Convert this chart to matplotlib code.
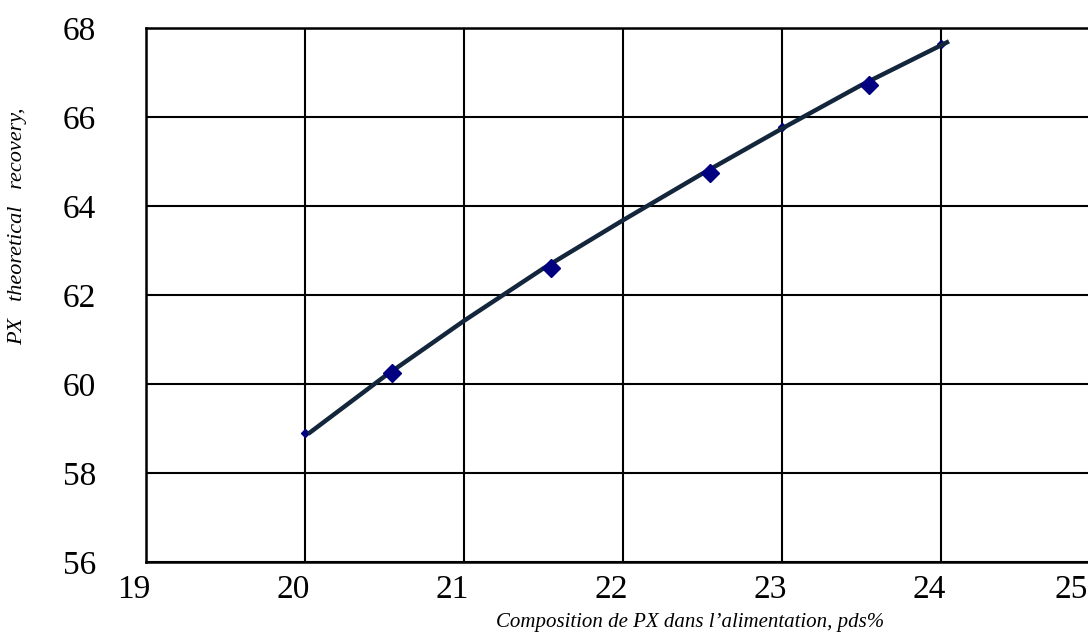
import matplotlib
matplotlib.use("Agg")
import matplotlib.pyplot as plt
from matplotlib.transforms import ScaledTranslation

# measured points (diamonds)
x_mes = [20.55, 21.55, 22.55, 23.55]
y_mes = [60.25, 62.6, 64.75, 66.72]

# smoothed recovery curve
x_curve = [20.02, 20.5, 21.0, 21.5, 22.0, 22.5, 23.0, 23.5, 24.05]
y_curve = [58.88, 60.17, 61.42, 62.6, 63.68, 64.73, 65.74, 66.72, 67.7]

# curve nodes at integer compositions
x_nodes = [20.0, 23.0, 24.0]
y_nodes = [58.9, 65.78, 67.64]

x_ticks = [19, 20, 21, 22, 23, 24, 25]
y_ticks = [56, 58, 60, 62, 64, 66, 68]

plt.rcParams['font.family'] = ['Liberation Serif', 'DejaVu Serif']

fig = plt.figure(figsize=(10.88, 6.44), dpi=100)
ax = fig.add_axes([146 / 1088, 82 / 644, 954 / 1088, 534 / 644])

ax.plot(x_nodes, y_nodes, linestyle='none', marker='D', markersize=4,
        color='#000080', zorder=2)
ax.plot(x_curve, y_curve, color='#13263c', linewidth=3.2,
        solid_capstyle='butt', zorder=3)
ax.plot(x_mes, y_mes, linestyle='none', marker='D', markersize=9,
        color='#000080', zorder=4)

ax.set_xlim(19, 25)
ax.set_ylim(56, 68)
ax.set_xticks(x_ticks)
ax.set_yticks(y_ticks)
ax.set_xticklabels([str(t) for t in x_ticks])
ax.set_yticklabels([str(t) for t in y_ticks])
ax.tick_params(length=0, labelsize=24, colors='black')
ax.tick_params(axis='x', pad=9)
ax.tick_params(axis='y', pad=36)

ax.grid(True, color='black', linewidth=1.5)
ax.set_axisbelow(True)
for side in ['left', 'top', 'bottom']:
    ax.spines[side].set_linewidth(1.8)
ax.spines['right'].set_visible(False)

# nudge x labels left, keep the last one inside the figure
shift = ScaledTranslation(-12 / 100, 0, fig.dpi_scale_trans)
labels = ax.get_xticklabels()
for lab in labels:
    lab.set_transform(lab.get_transform() + shift)
labels[-1].set_horizontalalignment('right')

fig.text(18 / 1088, 1 - 226 / 644, 'PX   theoretical   recovery,',
         rotation=90, ha='center', va='center', fontsize=16, style='italic')
fig.text(690 / 1088, 1 - 622 / 644,
         'Composition de PX dans l\u2019alimentation, pds%',
         ha='center', va='center', fontsize=15, style='italic')

fig.savefig('out.png', dpi=100)
